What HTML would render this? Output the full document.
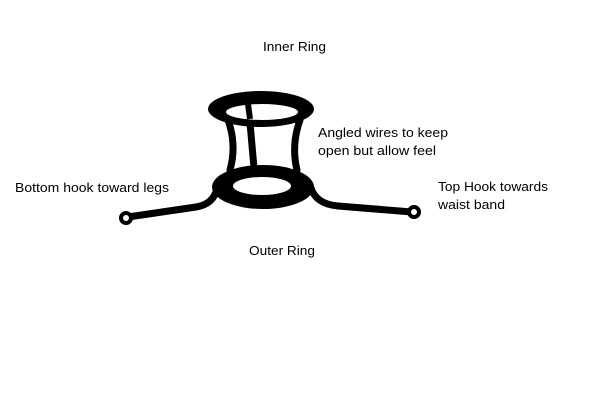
<!DOCTYPE html>
<html><head><style>html,body{margin:0;padding:0;background:#fff;}svg{display:block}</style></head>
<body>
<svg width="600" height="400" viewBox="0 0 600 400" xmlns="http://www.w3.org/2000/svg">
<rect width="600" height="400" fill="#fff"/>
<g font-family="'Liberation Sans', sans-serif" font-size="13" fill="#000">
<text x="263" y="51" textLength="63" lengthAdjust="spacingAndGlyphs">Inner Ring</text>
<text x="318" y="137" textLength="130" lengthAdjust="spacingAndGlyphs">Angled wires to keep</text>
<text x="318" y="155" textLength="118" lengthAdjust="spacingAndGlyphs">open but allow feel</text>
<text x="15" y="192" textLength="154" lengthAdjust="spacingAndGlyphs">Bottom hook toward legs</text>
<text x="438" y="191" textLength="110" lengthAdjust="spacingAndGlyphs">Top Hook towards</text>
<text x="438" y="209" textLength="67" lengthAdjust="spacingAndGlyphs">waist band</text>
<text x="249" y="255" textLength="66" lengthAdjust="spacingAndGlyphs">Outer Ring</text>
</g>
<g stroke="#000" fill="none" stroke-linecap="round">
<path d="M228,120 Q237,145 230,170" stroke-width="7"/>
<path d="M300,120 Q291,145 297,170" stroke-width="7"/>
<path d="M248,100 L254,168" stroke-width="7"/>
<path d="M217,188 Q214,204 196,207 L128,217" stroke-width="7"/>
<path d="M311,188 Q316,204 338,206 L412,212" stroke-width="7"/>
</g>
<ellipse cx="261" cy="109" rx="53" ry="18" fill="#000"/>
<ellipse cx="262" cy="112" rx="36" ry="8" fill="#fff"/>
<path d="M248,104 L250,119" stroke="#000" stroke-width="6"/>
<ellipse cx="263" cy="187" rx="51" ry="22" fill="#000"/>
<ellipse cx="262" cy="186" rx="29" ry="9" fill="#fff"/>
<circle cx="126" cy="218" r="5" fill="#fff" stroke="#000" stroke-width="4"/>
<circle cx="414" cy="212" r="5" fill="#fff" stroke="#000" stroke-width="4"/>
</svg>
</body></html>
